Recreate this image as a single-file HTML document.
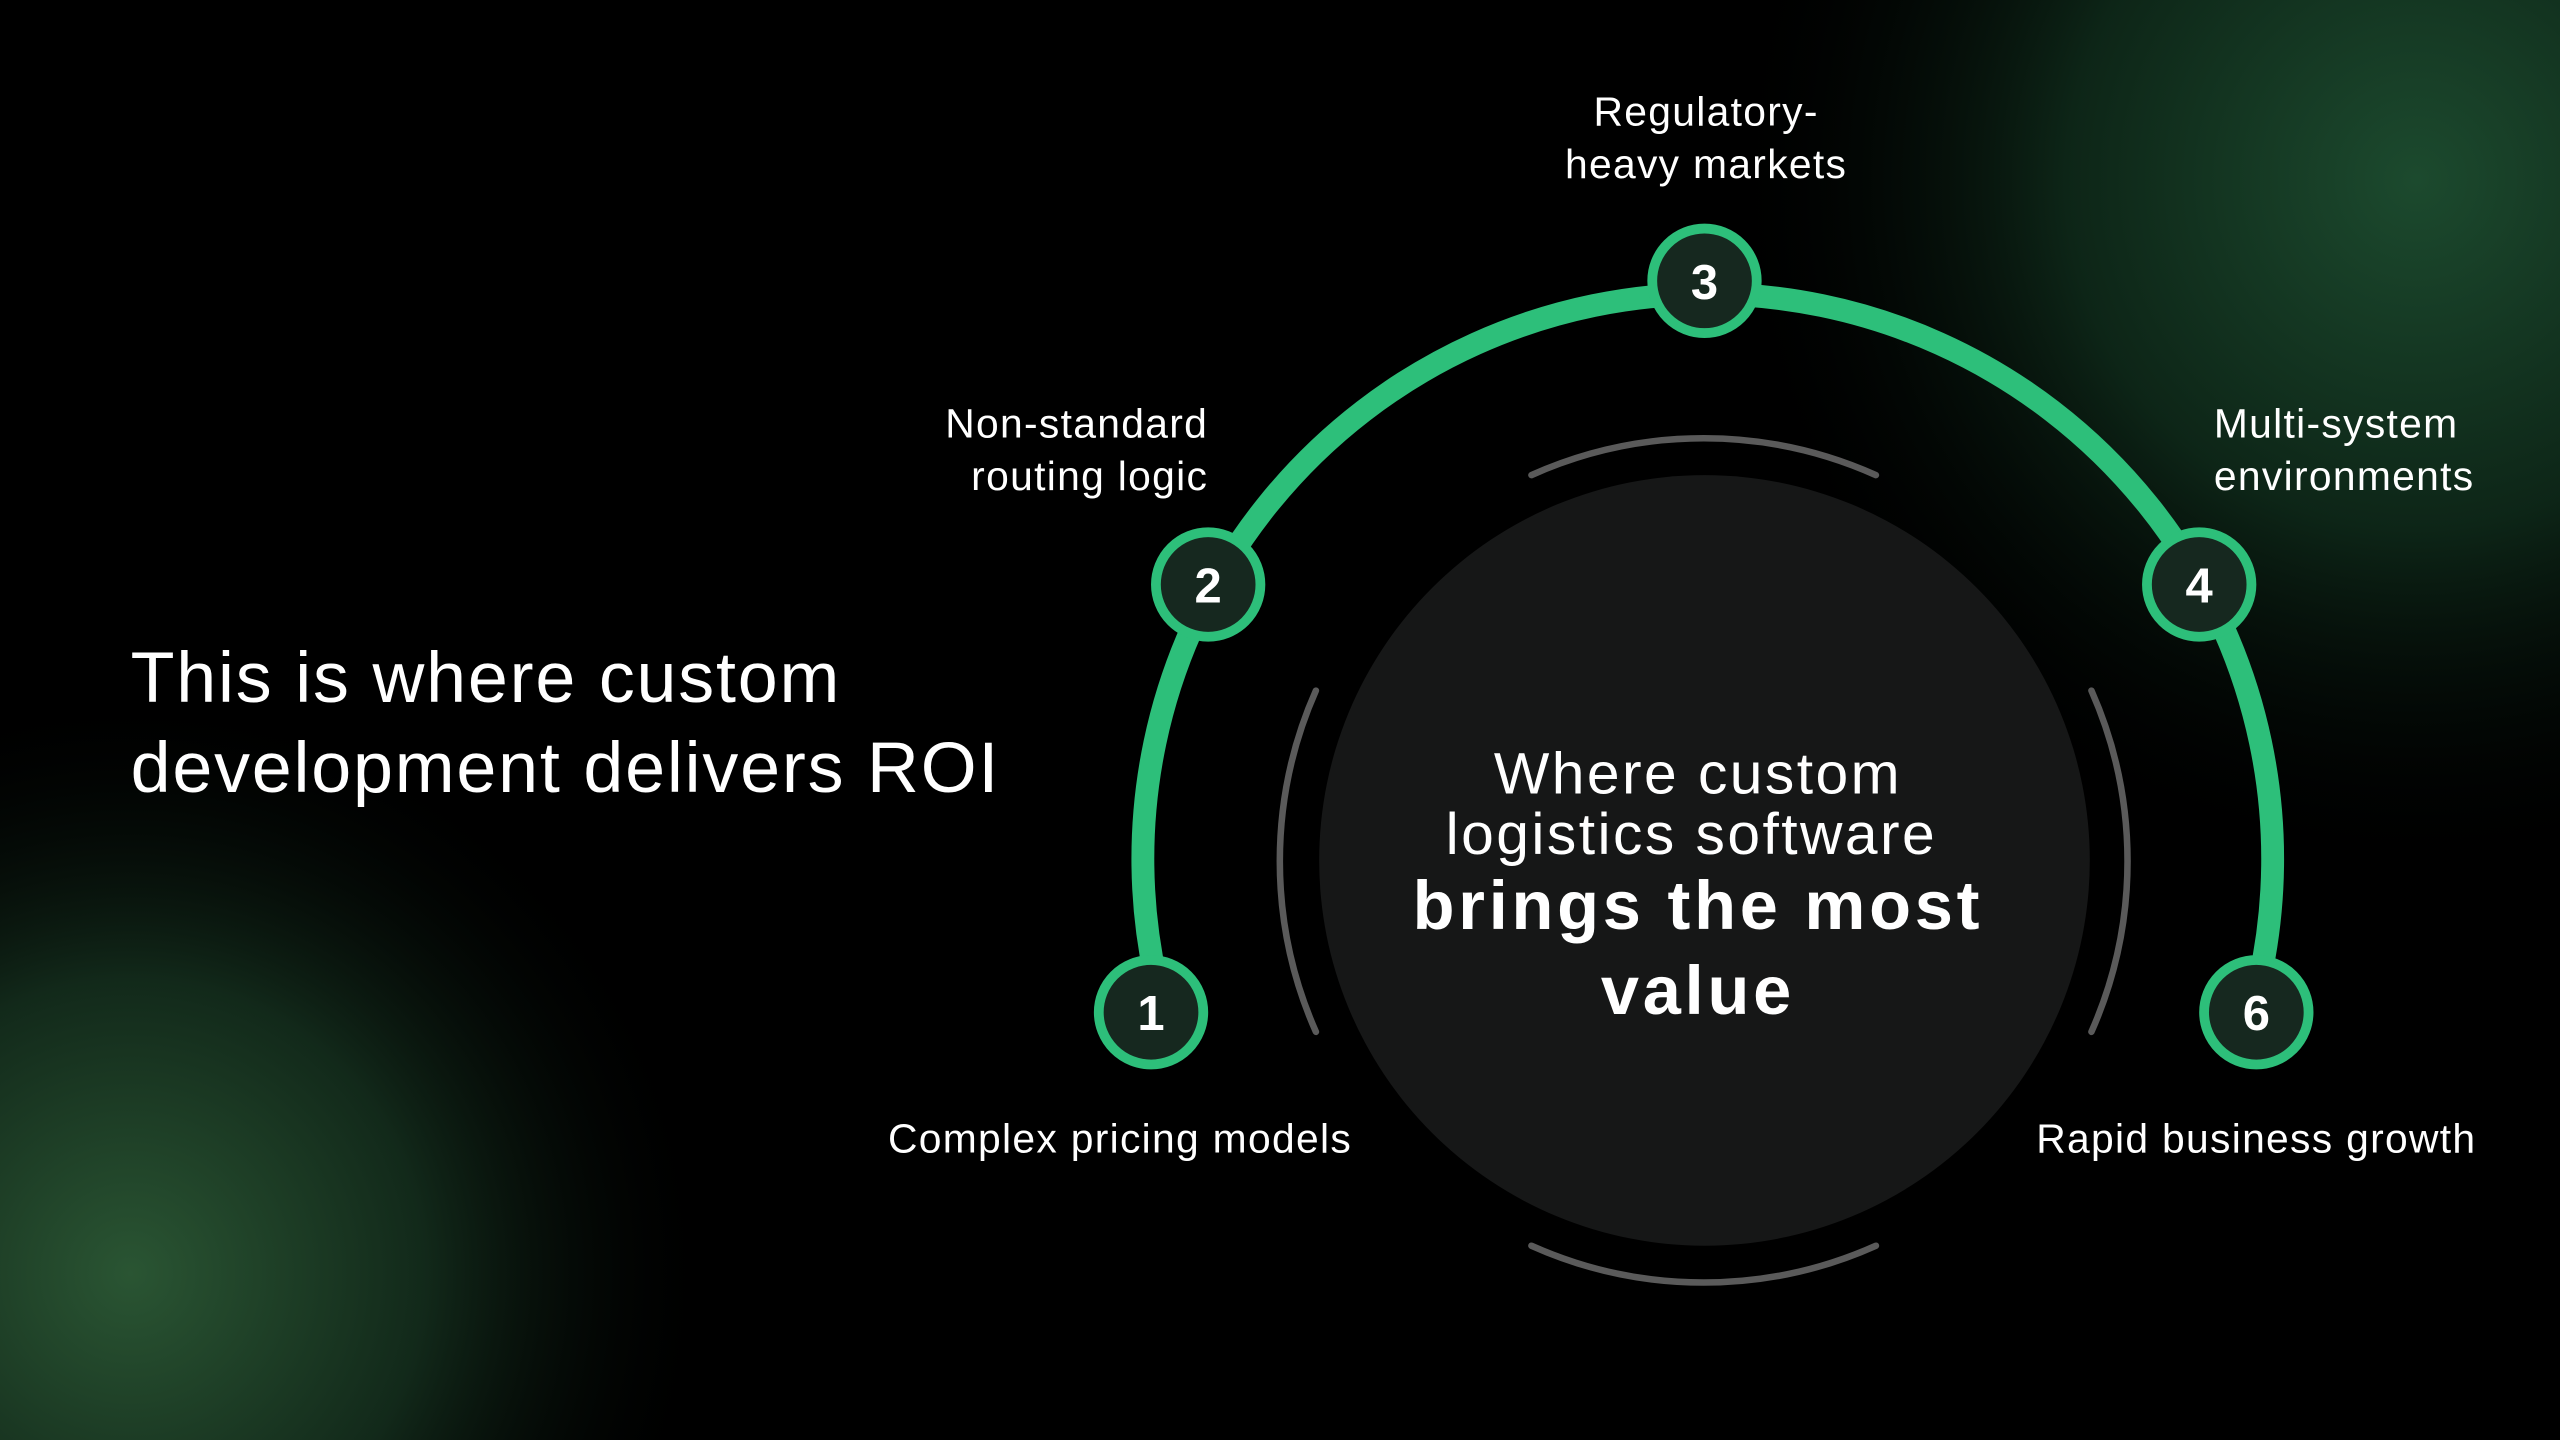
<!DOCTYPE html>
<html><head><meta charset="utf-8"><style>
html,body{margin:0;padding:0;background:#000;}
svg{display:block;}
text{font-family:"Liberation Sans",sans-serif;fill:#fff;}
</style></head><body>
<svg width="2560" height="1440" viewBox="0 0 1568 882" xmlns="http://www.w3.org/2000/svg">
<defs>
<radialGradient id="g1" cx="1480" cy="110" r="430" gradientUnits="userSpaceOnUse">
<stop offset="0" stop-color="#1c4a2e"/><stop offset="0.5" stop-color="#0d2517"/><stop offset="1" stop-color="#000" stop-opacity="0"/>
</radialGradient>
<radialGradient id="g2" cx="80" cy="780" r="360" gradientUnits="userSpaceOnUse">
<stop offset="0" stop-color="#2a5533"/><stop offset="0.5" stop-color="#12291a"/><stop offset="1" stop-color="#000" stop-opacity="0"/>
</radialGradient>
</defs>
<rect width="1568" height="882" fill="#000"/>
<rect width="1568" height="882" fill="url(#g1)"/>
<rect width="1568" height="882" fill="url(#g2)"/>

<circle cx="1044" cy="527" r="236" fill="#161717"/>
<g fill="none" stroke="#5a5a5a" stroke-width="4" stroke-linecap="round">
<path d="M938 291 A258 258 0 0 1 1149 291"/>
<path d="M938 763 A258 258 0 0 0 1149 763"/>
<path d="M806 423 A258 258 0 0 0 806 632"/>
<path d="M1281 423 A258 258 0 0 1 1281 632"/>
</g>
<path d="M708 600 A346 346 0 1 1 1384 600" fill="none" stroke="#2dbf7a" stroke-width="14"/>
<g stroke="#2dbf7a" stroke-width="6" fill="#16281f">
<circle cx="705" cy="620" r="32"/>
<circle cx="740" cy="358" r="32"/>
<circle cx="1044" cy="172" r="32"/>
<circle cx="1347" cy="358" r="32"/>
<circle cx="1382" cy="620" r="32"/>
</g>
<g font-size="30" font-weight="bold" text-anchor="middle">
<text x="705" y="631">1</text>
<text x="740" y="369">2</text>
<text x="1044" y="183">3</text>
<text x="1347" y="369">4</text>
<text x="1382" y="631">6</text>
</g>
<g font-size="25" letter-spacing="0.8">
<text x="1045" y="77" text-anchor="middle">Regulatory-</text>
<text x="1045" y="109" text-anchor="middle">heavy markets</text>
<text x="740" y="268" text-anchor="end">Non-standard</text>
<text x="740" y="300" text-anchor="end">routing logic</text>
<text x="1356" y="268">Multi-system</text>
<text x="1356" y="300">environments</text>
<text x="686" y="706" text-anchor="middle">Complex pricing models</text>
<text x="1382" y="706" text-anchor="middle">Rapid business growth</text>
</g>
<g font-size="44" letter-spacing="1.1">
<text x="80" y="430">This is where custom</text>
<text x="80" y="485">development delivers ROI</text>
</g>
<g text-anchor="middle">
<text x="1040" y="486" font-size="36" letter-spacing="1.5">Where custom</text>
<text x="1036" y="523" font-size="36" letter-spacing="1.5">logistics software</text>
<text x="1040" y="569" font-size="42" font-weight="bold" letter-spacing="2.3">brings the most</text>
<text x="1040" y="621" font-size="42" font-weight="bold" letter-spacing="2.3">value</text>
</g>
</svg>
</body></html>
